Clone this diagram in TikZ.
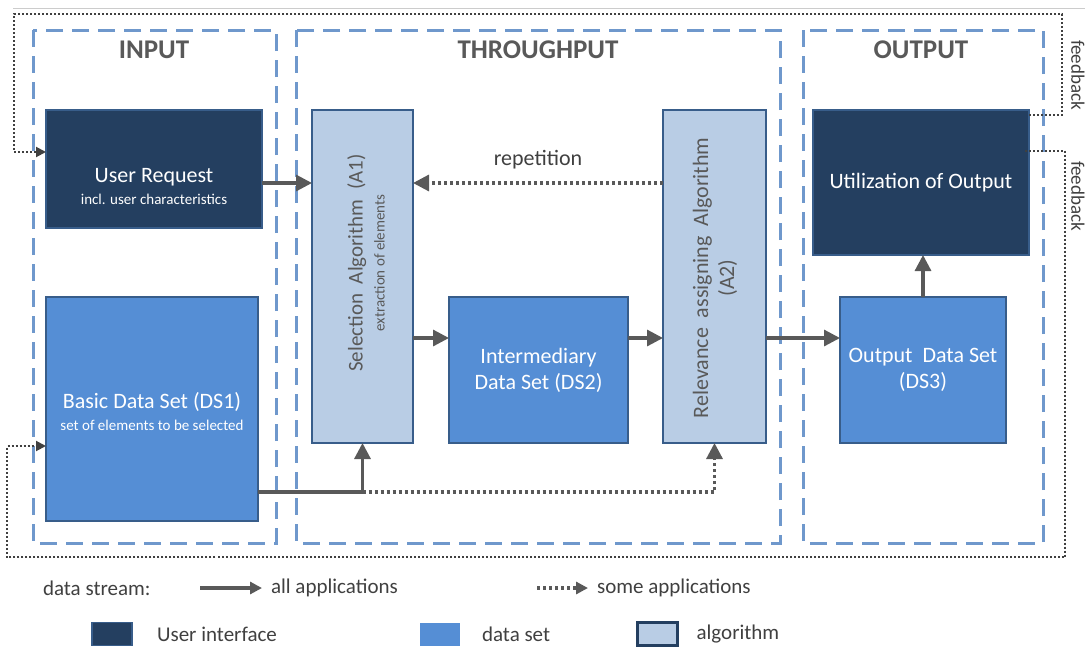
\documentclass[tikz,border=0pt]{standalone}
\usepackage{fontspec}
\setmainfont{Carlito}
\usepackage{tikz}
\usetikzlibrary{arrows.meta, positioning}
\definecolor{navy}{HTML}{243F60}
\definecolor{midblue}{HTML}{558ED5}
\definecolor{lightblue}{HTML}{B9CDE5}
\definecolor{edgeblue}{HTML}{385D8A}
\definecolor{dashblue}{HTML}{6F98CC}
\definecolor{arrowgray}{HTML}{595959}
\definecolor{textgray}{HTML}{404040}

\begin{document}
\begin{tikzpicture}[x=0.5pt, y=-0.5pt,
    uibox/.style={draw=edgeblue, fill=navy, line width=0.6pt, outer sep=0pt},
    dsbox/.style={draw=edgeblue, fill=midblue, line width=0.6pt, outer sep=0pt},
    algbox/.style={draw=edgeblue, fill=lightblue, line width=0.8pt, outer sep=0pt},
    boxtext/.style={text=white, align=center},
    algtext/.style={text=arrowgray, align=center, rotate=90},
    big/.style={font=\fontsize{11}{13}\selectfont},
    phase/.style={draw=dashblue, line width=1.5pt, dash pattern=on 8.5pt off 4.5pt},
    phasetitle/.style={font=\bfseries\fontsize{13.5}{15}\selectfont, text=arrowgray},
    flow/.style={draw=arrowgray, line width=1.6pt, -{Triangle[length=8pt,width=8pt]}},
    flowdot/.style={flow, dash pattern=on 1.6pt off 1.4pt},
    fb/.style={draw=textgray, line width=1pt, dash pattern=on 1pt off 1pt, -{Triangle[length=5pt,width=5pt]}},
    fbtext/.style={text=textgray, rotate=-90, font=\fontsize{9.5}{11}\selectfont},
    legtext/.style={text=textgray, font=\fontsize{10.5}{12}\selectfont}]
  \useasboundingbox (0,0) rectangle (1085,648);
  \draw[gray!40] (13,8) -- (1085,8);

  % phases
  \draw[phase] (33,30) rectangle (276,543);
  \draw[phase] (296,30) rectangle (780,543);
  \draw[phase] (803,30) rectangle (1043,543);
  \node[phasetitle] (intitle) at (154,50) {INPUT};
  \node[phasetitle] (thtitle) at (538,50) {THROUGHPUT};
  \node[phasetitle] (outtitle) at (921,50) {OUTPUT};

  % boxes
  \node[uibox, minimum width=108pt, minimum height=59pt] (user) at (154,169) {};
  \node[boxtext] (usertxt) at (154,186) {{\fontsize{11}{13}\selectfont User Request}\\[-1pt]{\fontsize{7.5}{9}\selectfont incl. user characteristics}};
  \node[dsbox, minimum width=106pt, minimum height=112pt] (basic) at (152,409) {};
  \node[boxtext] (basictxt) at (152,412) {{\fontsize{11}{13}\selectfont Basic Data Set (DS1)}\\[-1pt]{\fontsize{7.5}{9}\selectfont set of elements to be selected}};
  \node[algbox, minimum width=50.5pt, minimum height=166.5pt] (select) at (362.5,276.5) {};
  \node[algtext] (seltxt) at (366,263) {{\fontsize{10.5}{12}\selectfont Selection~ Algorithm~ (A1)}\\[-1pt]{\fontsize{7.5}{9}\selectfont extraction of elements}};
  \node[dsbox, minimum width=89.5pt, minimum height=73pt, boxtext, big] (inter) at (538.5,370) {Intermediary\\Data Set (DS2)};
  \node[algbox, minimum width=51.5pt, minimum height=166.5pt] (relev) at (714.5,276.5) {};
  \node[algtext, big] (reltxt) at (715,278) {Relevance~ assigning~ Algorithm\\(A2)};
  \node[uibox, minimum width=108pt, minimum height=72.5pt, boxtext, big] (util) at (921,182.5) {Utilization of Output};
  \node[dsbox, minimum width=83pt, minimum height=73pt, boxtext, big] (outds) at (923,370) {Output~ Data Set\\(DS3)};

  % data streams
  \coordinate (toprow) at (0,183);
  \coordinate (midrow) at (0,338);
  \coordinate (botrow) at (0,492);
  \draw[flow] (user.east |- toprow) -- (select.west |- toprow);
  \draw[flow] (select.east |- midrow) -- (inter.west |- midrow);
  \draw[flow] (inter.east |- midrow) -- (relev.west |- midrow);
  \draw[flow] (relev.east |- midrow) -- (outds.west |- midrow);
  \draw[flow] (outds.north) -- (outds.north |- util.south);
  \draw[flowdot] (relev.west |- toprow) -- (select.east |- toprow)
    node[midway, above=3pt, text=textgray, big] (reptxt) {repetition};
  \coordinate (split) at (select.south |- botrow);
  \draw[flowdot] (split) -| (relev.south);
  \draw[flow] (basic.east |- botrow) -| (select.south);

  % feedback
  \coordinate (fbtop) at (1062,14);
  \coordinate (fbtopleft) at (14,14);
  \coordinate (fbbot) at (1065,557);
  \coordinate (fbbotleft) at (7,557);
  \draw[fb] ([yshift=33.75pt]util.east) -| (fbtop) -- (fbtopleft) |- ([yshift=8.5pt]user.west);
  \draw[fb] ([yshift=16pt,xshift=-2pt]util.east) -| (fbbot) -- (fbbotleft) |- ([yshift=-18.5pt]basic.west);
  \node[fbtext] (fbtxt1) at (1078,75) {feedback};
  \node[fbtext] (fbtxt2) at (1078,196) {feedback};

  % legend
  \node[legtext, anchor=west] (dstream) at (36,588) {data stream:};
  \node[legtext, anchor=west] (allapp) at (264,588) {all applications};
  \node[legtext, anchor=west] (someapp) at (590,588) {some applications};
  \coordinate (allstart) at (200,588);
  \coordinate (somestart) at (537,588);
  \draw[flow, -{Triangle[length=6pt,width=6pt]}] (allstart) -- ([xshift=-1pt]allapp.west);
  \draw[flowdot, -{Triangle[length=6pt,width=6pt]}] (somestart) -- ([xshift=-1pt]someapp.west);
  \node[uibox, minimum width=20pt, minimum height=11.5pt] (keyui) at (112,634) {};
  \node[legtext, right=9pt of keyui] (keyuitxt) {User interface};
  \node[dsbox, draw=none, minimum width=20pt, minimum height=11.5pt] (keyds) at (440,634) {};
  \node[legtext, right=7.5pt of keyds] (keydstxt) {data set};
  \node[algbox, draw=navy, line width=1.2pt, minimum width=20pt, minimum height=11.5pt] (keyalg) at (657.5,634) {};
  \node[legtext, right=6pt of keyalg] (keyalgtxt) {algorithm};
\end{tikzpicture}
\end{document}
